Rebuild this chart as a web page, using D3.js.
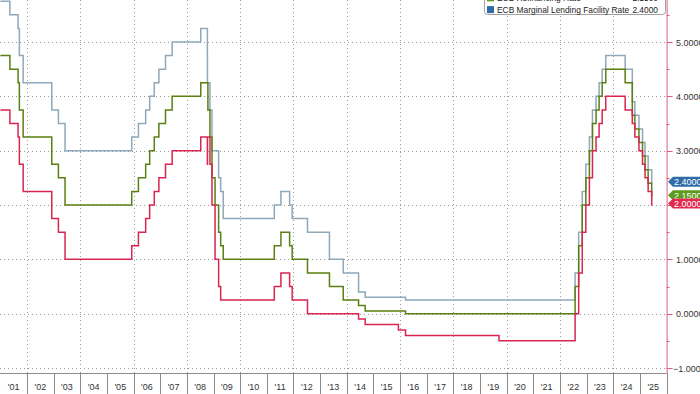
<!DOCTYPE html>
<html>
<head>
<meta charset="utf-8">
<script src="https://cdn.jsdelivr.net/npm/d3@7"></script>
<style>
  html, body { margin: 0; padding: 0; background: #fff; }
  svg { display: block; font-family: "Liberation Sans", Arial, sans-serif; }
</style>
</head>
<body>
<div id="chart"></div>
<script>
// ECB policy rates, one row per rate decision (effective date)
const dates = [
  "2001-01-01", "2001-05-11", "2001-08-31", "2001-09-18", "2001-11-09",
  "2002-12-06", "2003-03-07", "2003-06-06", "2005-12-06", "2006-03-08",
  "2006-06-15", "2006-08-09", "2006-10-11", "2006-12-13", "2007-03-14",
  "2007-06-13", "2008-07-09", "2008-10-08", "2008-10-09", "2008-10-15",
  "2008-11-12", "2008-12-10", "2009-01-21", "2009-03-11", "2009-04-08",
  "2009-05-13", "2011-04-13", "2011-07-13", "2011-11-09", "2011-12-14",
  "2012-07-11", "2013-05-08", "2013-11-13", "2014-06-11", "2014-09-10",
  "2015-12-09", "2016-03-16", "2019-09-18", "2022-07-27", "2022-09-14",
  "2022-11-02", "2022-12-21", "2023-02-08", "2023-03-22", "2023-05-10",
  "2023-06-21", "2023-08-02", "2023-09-20", "2024-06-12", "2024-09-18",
  "2024-10-23", "2024-12-18", "2025-02-05", "2025-03-12", "2025-04-23",
  "2025-06-11", "2025-06-16"
];

const depositRate = [
  3.75, 3.50, 3.25, 2.75, 2.25,
  1.75, 1.50, 1.00, 1.25, 1.50,
  1.75, 2.00, 2.25, 2.50, 2.75,
  3.00, 3.25, 2.75, 3.25, 3.25,
  2.75, 2.00, 1.00, 0.50, 0.25,
  0.25, 0.50, 0.75, 0.50, 0.25,
  0.00, 0.00, 0.00, -0.10, -0.20,
  -0.30, -0.40, -0.50, 0.00, 0.75,
  1.50, 2.00, 2.50, 3.00, 3.25,
  3.50, 3.75, 4.00, 3.75, 3.50,
  3.25, 3.00, 2.75, 2.50, 2.25,
  2.00, 2.00
];

const refiRate = [
  4.75, 4.50, 4.25, 3.75, 3.25,
  2.75, 2.50, 2.00, 2.25, 2.50,
  2.75, 3.00, 3.25, 3.50, 3.75,
  4.00, 4.25, 4.25, 4.25, 3.75,
  3.25, 2.50, 2.00, 1.50, 1.25,
  1.00, 1.25, 1.50, 1.25, 1.00,
  0.75, 0.50, 0.25, 0.15, 0.05,
  0.05, 0.00, 0.00, 0.50, 1.25,
  2.00, 2.50, 3.00, 3.50, 3.75,
  4.00, 4.25, 4.50, 4.25, 3.65,
  3.40, 3.15, 2.90, 2.65, 2.40,
  2.15, 2.15
];

const marginalRate = [
  5.75, 5.50, 5.25, 4.75, 4.25,
  3.75, 3.50, 3.00, 3.25, 3.50,
  3.75, 4.00, 4.25, 4.50, 4.75,
  5.00, 5.25, 4.75, 4.25, 4.25,
  3.75, 3.00, 3.00, 2.50, 2.25,
  1.75, 2.00, 2.25, 2.00, 1.75,
  1.50, 1.00, 0.75, 0.40, 0.30,
  0.30, 0.25, 0.25, 0.75, 1.50,
  2.25, 2.75, 3.25, 3.75, 4.00,
  4.25, 4.50, 4.75, 4.50, 3.90,
  3.65, 3.40, 3.15, 2.90, 2.65,
  2.40, 2.40
];

const seriesNames = ["ECB Deposit Facility Rate", "ECB Refinancing Rate", "ECB Marginal Lending Facility Rate"];
const yTicks = [-1, 0, 1, 2, 3, 4, 5];
const yearLabels = ["'01", "'02", "'03", "'04", "'05", "'06", "'07", "'08", "'09", "'10", "'11", "'12", "'13",
                    "'14", "'15", "'16", "'17", "'18", "'19", "'20", "'21", "'22", "'23", "'24", "'25"];

// colours
const lineColors = ["#d92550", "#5b7f10", "#8fa8ba"];
const tagColors = ["#e02a4e", "#5e9a1e", "#2f6ca8"];

const w = 700, h = 394;
const plotRight = 666.6;
const plotBottom = 373;

const parse = d3.timeParse("%Y-%m-%d");
const dateObjs = dates.map(parse);

const series = [depositRate, refiRate, marginalRate].map((vals, i) => ({
  name: seriesNames[i],
  last: vals[vals.length - 1],
  values: vals.map((v, j) => ({ date: dateObjs[j], value: v }))
}));

const x = d3.scaleTime()
  .domain([new Date(2001, 0, 1), new Date(2026, 0, 1)])
  .range([0.4, plotRight]);

const y = d3.scaleLinear()
  .domain([-1, 5])
  .range([368, 42]);

const svg = d3.select("#chart").append("svg")
  .attr("width", w)
  .attr("height", h);

// horizontal dotted grid
svg.append("g").selectAll("line")
  .data(yTicks)
  .enter().append("line")
  .attr("x1", 0).attr("x2", plotRight)
  .attr("y1", d => Math.round(y(d)) + 0.5).attr("y2", d => Math.round(y(d)) + 0.5)
  .attr("stroke", "#9a9a9a")
  .attr("stroke-width", 1)
  .attr("stroke-dasharray", "1,3");

// vertical dotted grid every second year
const gridYears = d3.range(2002, 2026, 2).map(yr => new Date(yr, 0, 1));
svg.append("g").selectAll("line")
  .data(gridYears)
  .enter().append("line")
  .attr("x1", d => Math.round(x(d)) + 0.5).attr("x2", d => Math.round(x(d)) + 0.5)
  .attr("y1", 0).attr("y2", plotBottom)
  .attr("stroke", "#9a9a9a")
  .attr("stroke-width", 1)
  .attr("stroke-dasharray", "1,3");

// step lines (draw marginal first, deposit last)
const line = d3.line()
  .x(d => x(d.date))
  .y(d => y(d.value))
  .curve(d3.curveStepAfter);

svg.append("g").selectAll("path")
  .data([2, 1, 0])
  .enter().append("path")
  .attr("d", i => line(series[i].values))
  .attr("fill", "none")
  .attr("stroke", i => lineColors[i])
  .attr("stroke-width", 1.5);

// x axis band: baseline, year separators and labels
const xBand = svg.append("g");
xBand.append("line")
  .attr("x1", 0).attr("x2", plotRight)
  .attr("y1", plotBottom + 0.5).attr("y2", plotBottom + 0.5)
  .attr("stroke", "#8a8a8a");

const bounds = d3.range(2002, 2027).map(yr => new Date(yr, 0, 1));
xBand.selectAll(".sep")
  .data(bounds)
  .enter().append("line")
  .attr("class", "sep")
  .attr("x1", d => Math.round(x(d)) + 0.5).attr("x2", d => Math.round(x(d)) + 0.5)
  .attr("y1", plotBottom).attr("y2", h)
  .attr("stroke", "#8a8a8a");

xBand.selectAll("text")
  .data(yearLabels)
  .enter().append("text")
  .attr("x", (d, i) => x(new Date(2001 + i, 6, 2)))
  .attr("y", 390)
  .attr("text-anchor", "middle")
  .attr("font-size", "9px")
  .attr("fill", "#333")
  .text(d => d);

// right y axis
const yAxisG = svg.append("g");
yAxisG.append("line")
  .attr("x1", plotRight + 0.5).attr("x2", plotRight + 0.5)
  .attr("y1", 0).attr("y2", plotBottom)
  .attr("stroke", "#e0607e")
  .attr("stroke-width", 1);

yAxisG.selectAll(".minor")
  .data(d3.range(-0.5, 5.6, 1))
  .enter().append("line")
  .attr("x1", plotRight).attr("x2", plotRight + 3)
  .attr("y1", d => Math.round(y(d)) + 0.5).attr("y2", d => Math.round(y(d)) + 0.5)
  .attr("stroke", "#e0607e");

yAxisG.selectAll(".major")
  .data(yTicks)
  .enter().append("line")
  .attr("x1", plotRight).attr("x2", plotRight + 6)
  .attr("y1", d => Math.round(y(d)) + 0.5).attr("y2", d => Math.round(y(d)) + 0.5)
  .attr("stroke", "#e0607e");

yAxisG.selectAll("text")
  .data(yTicks.filter(d => d !== 2))
  .enter().append("text")
  .attr("x", d => d < 0 ? 673 : 676)
  .attr("y", d => y(d) + 3.5)
  .attr("font-size", "9px")
  .attr("fill", "#333")
  .text(d => d3.format(".4f")(d));

// last value tags (marginal, refi, deposit – deposit on top)
const tags = svg.append("g");
[2, 1, 0].forEach(i => {
  const cy = y(series[i].last) - 1.5;
  const g = tags.append("g").attr("transform", `translate(0,${cy})`);
  g.append("path")
    .attr("d", "M668,0 L673,-5 L700,-5 L700,5 L673,5 Z")
    .attr("fill", tagColors[i]);
  g.append("text")
    .attr("x", 674)
    .attr("y", 3.3)
    .attr("font-size", "9px")
    .attr("fill", "#fff")
    .text(d3.format(".4f")(series[i].last));
});

// legend (top row sits above the visible area)
const legend = svg.append("g");
legend.append("rect")
  .attr("x", 484.5).attr("y", -30.5)
  .attr("width", 181).attr("height", 45)
  .attr("rx", 3)
  .attr("fill", "#fff")
  .attr("stroke", "#a0a0a0");

series.forEach((s, i) => {
  const cy = -14 + i * 11.8;
  legend.append("rect")
    .attr("x", 487).attr("y", cy - 3.5)
    .attr("width", 7).attr("height", 7)
    .attr("fill", tagColors[i]);
  legend.append("text")
    .attr("x", 497).attr("y", cy + 3)
    .attr("font-size", "8.4px")
    .attr("fill", "#222")
    .text(s.name);
  legend.append("text")
    .attr("x", 658).attr("y", cy + 3)
    .attr("text-anchor", "end")
    .attr("font-size", "8.4px")
    .attr("fill", "#222")
    .text(d3.format(".4f")(s.last));
});
</script>
</body>
</html>
